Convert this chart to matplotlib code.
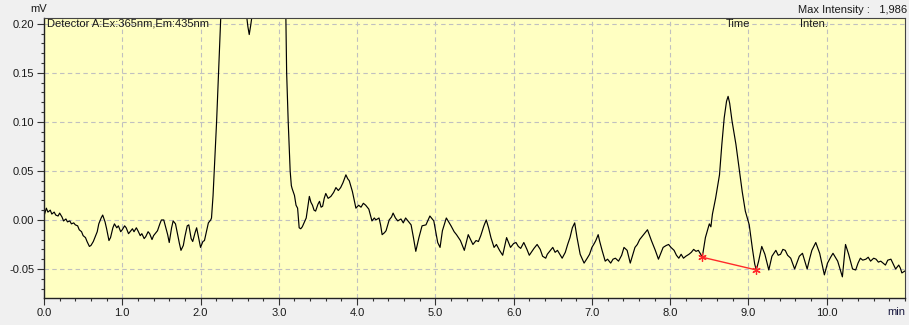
"""Chromatogramme fluorescence : Detector A Ex 365 nm / Em 435 nm"""
import matplotlib.pyplot as plt
from matplotlib.ticker import MultipleLocator, FormatStrFormatter

# temps de rétention (min) et signal (mV)
time_min = [
    0.00, 0.03, 0.05, 0.08, 0.10, 0.13, 0.15, 0.18, 0.20, 0.23, 0.25, 0.28,
    0.30, 0.33, 0.35, 0.38, 0.40, 0.43, 0.45, 0.48, 0.50, 0.53, 0.55, 0.58,
    0.60, 0.63, 0.65, 0.68, 0.70, 0.73, 0.75, 0.78, 0.80, 0.83, 0.85, 0.88,
    0.90, 0.93, 0.95, 0.98, 1.00, 1.03, 1.05, 1.08, 1.10, 1.13, 1.15, 1.18,
    1.20, 1.23, 1.25, 1.28, 1.30, 1.33, 1.35, 1.38, 1.40, 1.43, 1.45, 1.48,
    1.50, 1.53, 1.55, 1.58, 1.60, 1.63, 1.65, 1.68, 1.70, 1.73, 1.75, 1.78,
    1.80, 1.83, 1.85, 1.88, 1.90, 1.93, 1.95, 1.98, 2.00, 2.03, 2.05, 2.08,
    2.10, 2.13, 2.14, 2.16, 2.175, 2.19, 2.205, 2.22, 2.23, 2.245, 2.26, 2.30,
    2.38, 2.45, 2.52, 2.57, 2.59, 2.605, 2.622, 2.64, 2.656, 2.70, 2.80, 2.86,
    2.95, 3.03, 3.07, 3.09, 3.10, 3.12, 3.145, 3.16, 3.17, 3.20, 3.22, 3.24,
    3.26, 3.28, 3.30, 3.35, 3.39, 3.41, 3.43, 3.45, 3.47, 3.50, 3.52, 3.54,
    3.56, 3.58, 3.60, 3.63, 3.665, 3.70, 3.73, 3.76, 3.79, 3.82, 3.857, 3.88,
    3.90, 3.94, 3.985, 4.02, 4.05, 4.08, 4.11, 4.15, 4.19, 4.22, 4.24, 4.28,
    4.30, 4.32, 4.35, 4.37, 4.41, 4.44, 4.46, 4.49, 4.52, 4.56, 4.59, 4.62,
    4.66, 4.69, 4.72, 4.75, 4.79, 4.83, 4.88, 4.93, 4.98, 5.03, 5.06, 5.09,
    5.14, 5.17, 5.20, 5.24, 5.27, 5.32, 5.37, 5.42, 5.45, 5.48, 5.52, 5.55,
    5.58, 5.62, 5.65, 5.68, 5.71, 5.75, 5.78, 5.82, 5.86, 5.91, 5.96, 6.00,
    6.03, 6.06, 6.09, 6.13, 6.17, 6.20, 6.26, 6.30, 6.34, 6.37, 6.41, 6.43,
    6.46, 6.50, 6.53, 6.56, 6.59, 6.62, 6.66, 6.69, 6.72, 6.75, 6.78, 6.81,
    6.85, 6.90, 6.94, 6.97, 7.00, 7.03, 7.05, 7.08, 7.10, 7.13, 7.17, 7.20,
    7.24, 7.27, 7.30, 7.34, 7.38, 7.41, 7.45, 7.49, 7.52, 7.55, 7.58, 7.61,
    7.66, 7.71, 7.76, 7.81, 7.85, 7.88, 7.91, 7.95, 7.98, 8.01, 8.05, 8.08,
    8.11, 8.14, 8.17, 8.20, 8.24, 8.27, 8.30, 8.33, 8.36, 8.39, 8.41, 8.45,
    8.475, 8.50, 8.52, 8.54, 8.58, 8.63, 8.66, 8.69, 8.72, 8.74, 8.76, 8.79,
    8.84, 8.88, 8.92, 8.96, 9.01, 9.05, 9.08, 9.10, 9.13, 9.17, 9.21, 9.26,
    9.30, 9.35, 9.38, 9.41, 9.44, 9.47, 9.50, 9.54, 9.59, 9.65, 9.69, 9.72,
    9.75, 9.78, 9.81, 9.86, 9.91, 9.94, 9.97, 10.01, 10.05, 10.08, 10.11, 10.14,
    10.17, 10.20, 10.24, 10.28, 10.33, 10.37, 10.40, 10.43, 10.46, 10.50, 10.53, 10.56,
    10.60, 10.63, 10.66, 10.69, 10.72, 10.75, 10.78, 10.82, 10.85, 10.88, 10.92, 10.94,
    10.96, 11.00,
]
signal_mv = [
    0.004, 0.012, 0.008, 0.010, 0.006, 0.008, 0.005, 0.004, 0.007, 0.003, -0.001, 0.001,
    -0.002, -0.001, -0.004, -0.003, -0.005, -0.006, -0.010, -0.012, -0.016, -0.018, -0.022, -0.027,
    -0.026, -0.022, -0.018, -0.012, -0.004, 0.002, 0.005, -0.002, -0.009, -0.021, -0.018, -0.008,
    -0.004, -0.008, -0.006, -0.012, -0.010, -0.006, -0.008, -0.014, -0.012, -0.009, -0.012, -0.008,
    -0.011, -0.016, -0.014, -0.019, -0.017, -0.012, -0.014, -0.020, -0.016, -0.013, -0.011, -0.004,
    0.000, 0.000, -0.006, -0.015, -0.023, -0.008, -0.001, -0.004, -0.012, -0.024, -0.031, -0.026,
    -0.017, -0.006, -0.005, -0.019, -0.022, -0.013, -0.008, -0.020, -0.028, -0.022, -0.021, -0.010,
    -0.003, 0.000, 0.002, 0.025, 0.050, 0.075, 0.100, 0.130, 0.150, 0.180, 0.210, 0.450,
    0.850, 0.700, 0.400, 0.240, 0.207, 0.197, 0.189, 0.198, 0.207, 0.300, 1.000, 1.986,
    1.100, 0.400, 0.250, 0.207, 0.150, 0.100, 0.050, 0.035, 0.032, 0.025, 0.015, 0.012,
    -0.008, -0.009, -0.007, 0.002, 0.024, 0.018, 0.015, 0.010, 0.009, 0.016, 0.019, 0.013,
    0.014, 0.022, 0.027, 0.022, 0.024, 0.028, 0.033, 0.030, 0.033, 0.038, 0.046, 0.042,
    0.040, 0.029, 0.012, 0.015, 0.013, 0.017, 0.015, 0.011, -0.001, 0.002, 0.000, 0.002,
    -0.005, -0.015, -0.013, -0.011, 0.000, 0.003, 0.007, 0.002, -0.001, 0.001, -0.003, 0.002,
    -0.002, -0.005, -0.018, -0.032, -0.018, -0.006, -0.005, 0.004, -0.001, -0.023, -0.028, -0.011,
    0.002, -0.002, -0.006, -0.012, -0.015, -0.021, -0.031, -0.015, -0.020, -0.025, -0.021, -0.022,
    -0.016, -0.006, 0.000, -0.008, -0.018, -0.028, -0.025, -0.031, -0.036, -0.018, -0.028, -0.024,
    -0.023, -0.027, -0.029, -0.023, -0.030, -0.036, -0.029, -0.025, -0.030, -0.037, -0.039, -0.035,
    -0.032, -0.028, -0.033, -0.031, -0.035, -0.039, -0.033, -0.025, -0.018, -0.008, -0.003, -0.018,
    -0.035, -0.044, -0.039, -0.035, -0.028, -0.024, -0.021, -0.015, -0.022, -0.031, -0.042, -0.040,
    -0.044, -0.040, -0.039, -0.042, -0.036, -0.028, -0.031, -0.044, -0.036, -0.028, -0.025, -0.020,
    -0.015, -0.010, -0.021, -0.031, -0.040, -0.034, -0.028, -0.026, -0.025, -0.028, -0.031, -0.036,
    -0.039, -0.035, -0.039, -0.037, -0.035, -0.033, -0.030, -0.032, -0.031, -0.035, -0.038, -0.018,
    -0.011, -0.004, -0.007, 0.006, 0.022, 0.046, 0.077, 0.104, 0.121, 0.126, 0.119, 0.101,
    0.077, 0.053, 0.029, 0.009, -0.005, -0.029, -0.045, -0.051, -0.042, -0.027, -0.035, -0.051,
    -0.037, -0.031, -0.036, -0.035, -0.030, -0.031, -0.036, -0.039, -0.050, -0.037, -0.034, -0.042,
    -0.050, -0.040, -0.031, -0.023, -0.034, -0.045, -0.056, -0.044, -0.038, -0.034, -0.038, -0.042,
    -0.050, -0.058, -0.025, -0.035, -0.050, -0.051, -0.044, -0.039, -0.041, -0.040, -0.038, -0.042,
    -0.039, -0.040, -0.043, -0.042, -0.044, -0.046, -0.041, -0.040, -0.045, -0.050, -0.046, -0.049,
    -0.054, -0.052,
]

# ligne de base du pic intégré (début, fin)
baseline_time = [8.41, 9.10]
baseline_mv = [-0.038, -0.051]

y_ticks = [-0.05, 0.00, 0.05, 0.10, 0.15, 0.20]
x_ticks = [0, 1, 2, 3, 4, 5, 6, 7, 8, 9, 10]

TEXT_COLOR = "#1a1a1a"
plt.rcParams["font.family"] = ["Liberation Sans", "DejaVu Sans"]
plt.rcParams["font.size"] = 8

fig = plt.figure(figsize=(9.09, 3.25), dpi=100, facecolor="#f0f0f0")
ax = fig.add_axes([0.0484, 0.083, 0.9472, 0.862], facecolor="#ffffc2")

ax.plot(time_min, signal_mv, color="black", linewidth=0.85)
ax.plot(baseline_time, baseline_mv, color="#ff2a2a", linewidth=1.0,
        marker=(6, 2, 0), markersize=6, markeredgewidth=0.9)

ax.set_xlim(0, 11)
ax.set_ylim(-0.0796, 0.206)

ax.set_xticks(x_ticks)
ax.set_yticks(y_ticks)
ax.xaxis.set_major_formatter(FormatStrFormatter("%.1f"))
ax.yaxis.set_major_formatter(FormatStrFormatter("%.2f"))
ax.xaxis.set_minor_locator(MultipleLocator(0.2))
ax.yaxis.set_minor_locator(MultipleLocator(0.01))
ax.tick_params(which="major", direction="out", length=5, width=0.8,
               colors="#333333", labelcolor=TEXT_COLOR, pad=2)
ax.tick_params(which="minor", direction="out", length=2.5, width=0.8,
               colors="#333333")

ax.grid(True, which="major", color="#c0c0c0", linestyle=(0, (4, 3)),
        linewidth=0.8)
ax.set_axisbelow(True)

for side in ["left", "bottom"]:
    ax.spines[side].set_color("#222222")
    ax.spines[side].set_linewidth(1.0)
for side in ["top", "right"]:
    ax.spines[side].set_color("#444444")
    ax.spines[side].set_linewidth(0.8)

ax.text(0.0035, 0.979, "Detector A:Ex:365nm,Em:435nm", transform=ax.transAxes,
        ha="left", va="center", color=TEXT_COLOR)
ax.text(0.806, 0.979, "Time", transform=ax.transAxes,
        ha="center", va="center", color=TEXT_COLOR)
ax.text(0.894, 0.979, "Inten.", transform=ax.transAxes,
        ha="center", va="center", color=TEXT_COLOR)

fig.text(0.042, 0.972, "mV", ha="center", va="center", color=TEXT_COLOR)
fig.text(0.998, 0.969, "Max Intensity :   1,986", ha="right", va="center",
         color=TEXT_COLOR)
fig.text(0.996, 0.040, "min", ha="right", va="center", color="#1a1a40")

fig.savefig("out.png", dpi=100, facecolor=fig.get_facecolor())
